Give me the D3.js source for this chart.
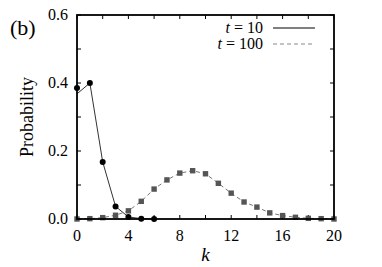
<!DOCTYPE html>
<html><head><meta charset="utf-8">
<script src="https://cdn.jsdelivr.net/npm/d3@7"></script>
<style>body{margin:0;background:#fff}svg{display:block}svg text{font-family:'Liberation Serif',serif}</style>
</head><body><svg id="c" width="382" height="267"></svg>
<script>
const kT10 = [0,1,2,3,4,5,6];
const pointsT10 = [0.385,0.400,0.168,0.037,0.006,0.001,0.000];
const lineT10 = [0.368,0.400,0.168,0.037,0.006,0.001,0.000];
const kT100 = d3.range(0,21);
const pointsT100 = [0.000,0.001,0.004,0.011,0.024,0.052,0.088,0.115,0.135,0.142,0.133,0.105,0.076,0.050,0.035,0.018,0.010,0.005,0.002,0.001,0.000];
const xTicks = [0,4,8,12,16,20];
const yTicks = [0.0,0.2,0.4,0.6];
const legendLabels = ["t = 10","t = 100"];

const svg = d3.select("#c");
const L=77,R=334,T=15,B=219;
const x = d3.scaleLinear().domain([0,20]).range([L,R]);
const y = d3.scaleLinear().domain([0,0.6]).range([B,T]);

const g = svg.append("g");
d3.range(0,21,2).forEach(v=>{
  g.append("line").attr("x1",x(v)).attr("x2",x(v)).attr("y1",B).attr("y2",B-4).attr("stroke","#000");
  g.append("line").attr("x1",x(v)).attr("x2",x(v)).attr("y1",T).attr("y2",T+4).attr("stroke","#000");
});
d3.range(0,7).forEach(i=>{
  const v=i/10;
  g.append("line").attr("x1",L).attr("x2",L+4).attr("y1",y(v)).attr("y2",y(v)).attr("stroke","#000");
  g.append("line").attr("x1",R).attr("x2",R-4).attr("y1",y(v)).attr("y2",y(v)).attr("stroke","#000");
});
svg.append("g").selectAll("text").data(xTicks).join("text")
  .attr("x",d=>x(d)).attr("y",B+22).attr("text-anchor","middle").attr("font-size",16).text(d=>d);
svg.append("g").selectAll("text").data(yTicks).join("text")
  .attr("x",L-9).attr("y",d=>y(d)+5).attr("text-anchor","end").attr("font-size",16).text(d=>d.toFixed(1));

const line = d3.line().x(d=>x(d[0])).y(d=>y(d[1]));
svg.append("path").datum(kT100.map((k,i)=>[k,pointsT100[i]]))
  .attr("d",line).attr("fill","none").attr("stroke","#777").attr("stroke-width",1).attr("stroke-dasharray","4,3");
svg.append("g").selectAll("rect").data(kT100).join("rect")
  .attr("x",(d)=>x(d)-2.7).attr("y",(d,i)=>y(pointsT100[i])-2.7).attr("width",5.4).attr("height",5.4).attr("fill","#555");

svg.append("path").datum(kT10.map((k,i)=>[k,lineT10[i]]))
  .attr("d",line).attr("fill","none").attr("stroke","#333").attr("stroke-width",1);
svg.append("g").selectAll("circle").data(kT10).join("circle")
  .attr("cx",d=>x(d)).attr("cy",(d,i)=>y(pointsT10[i])).attr("r",3).attr("fill","#000");

svg.append("rect").attr("x",L).attr("y",T).attr("width",R-L).attr("height",B-T)
  .attr("fill","none").attr("stroke","#000").attr("stroke-width",1.8);

const lg = svg.append("g");
[0,1].forEach(i=>{
  const yy = 28+i*16;
  const t = lg.append("text").attr("x",263).attr("y",yy+5).attr("text-anchor","end").attr("font-size",16);
  t.append("tspan").attr("font-style","italic").text("t");
  t.append("tspan").text(legendLabels[i].slice(1));
  lg.append("line").attr("x1",273).attr("x2",315).attr("y1",yy).attr("y2",yy)
    .attr("stroke",i?"#888":"#000").attr("stroke-width",1).attr("stroke-dasharray",i?"4,3":null);
});

svg.append("text").attr("x",10).attr("y",35).attr("font-size",22).text("(b)");
svg.append("text").attr("transform","translate(33,117) rotate(-90)").attr("text-anchor","middle").attr("font-size",18).text("Probability");
svg.append("text").attr("x",x(10)).attr("y",B+42).attr("text-anchor","middle").attr("font-size",19).attr("font-style","italic").text("k");
</script></body></html>
